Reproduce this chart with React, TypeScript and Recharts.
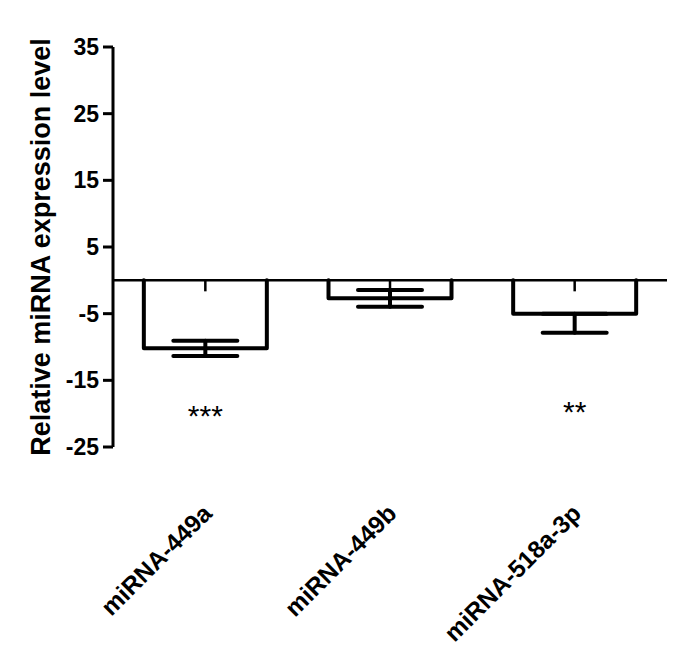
import React from 'react';
import { BarChart, Bar, XAxis, YAxis, ErrorBar, ReferenceLine, ReferenceDot } from 'recharts';

const categories = ['miRNA-449a', 'miRNA-449b', 'miRNA-518a-3p'];
const means = [-10.2, -2.7, -5.0];
const errors: [number, number][] = [[1.15, 1.15], [1.25, 1.25], [2.85, 0]];
const significance = ['***', '', '**'];
const significanceLevel = [-20.3, -20.3, -19.7];
const yTicks = [-25, -15, -5, 5, 15, 25, 35];
const yTitle = 'Relative miRNA expression level';

const FONT = "Arial, 'Liberation Sans', Helvetica, sans-serif";

const data = categories.map((name, i) => ({ name, value: means[i], err: errors[i] }));

const OpenBar = (props: any) => {
  const { x, y, width, height, value } = props;
  const v = Array.isArray(value) ? value[1] : value;
  const top = Math.min(y, y + height);
  const bottom = Math.max(y, y + height);
  const base = v < 0 ? top : bottom;
  const end = v < 0 ? bottom : top;
  const dir = v < 0 ? 1 : -1;
  const cx = x + width / 2;
  return (
    <g>
      <path
        d={`M${x},${base} L${x},${end} L${x + width},${end} L${x + width},${base}`}
        fill="#fff"
        stroke="#000"
        strokeWidth={4}
        strokeLinejoin="round"
        strokeLinecap="round"
      />
      <line x1={cx} y1={base} x2={cx} y2={base + dir * 11} stroke="#000" strokeWidth={2.5} />
    </g>
  );
};

const XTick = (props: any) => {
  const { x, y, payload } = props;
  return (
    <text
      transform={`translate(${x + 8},${y + 60}) rotate(-45)`}
      textAnchor="end"
      fontFamily={FONT}
      fontWeight="bold"
      fontSize={24.5}
      fill="#000"
    >
      {payload.value}
    </text>
  );
};

export default function App() {
  return (
    <div style={{ position: 'absolute', left: 0, top: 0, background: '#fff' }}>
      <BarChart
        width={685}
        height={665}
        data={data}
        margin={{ top: 47, right: 18, bottom: 18, left: 13 }}
        barCategoryGap="16.7%"
      >
        <XAxis
          dataKey="name"
          axisLine={false}
          tickLine={false}
          height={200}
          interval={0}
          tick={<XTick />}
        />
        <YAxis
          domain={[-25, 35]}
          ticks={yTicks}
          width={100}
          axisLine={{ stroke: '#000', strokeWidth: 3 }}
          tickLine={{ stroke: '#000', strokeWidth: 3 }}
          tickSize={10}
          tickMargin={4}
          tick={{ fill: '#000', fontFamily: FONT, fontWeight: 'bold', fontSize: 23 }}
          interval={0}
          label={{
            value: yTitle,
            angle: -90,
            position: 'center',
            dx: -23,
            style: { fill: '#000', fontFamily: FONT, fontWeight: 'bold', fontSize: 27 },
          }}
        />
        <ReferenceLine y={0} stroke="#000" strokeWidth={2.5} />
        <Bar dataKey="value" shape={<OpenBar />} isAnimationActive={false}>
          <ErrorBar
            dataKey="err"
            width={32}
            stroke="#000"
            strokeWidth={4}
            strokeLinecap="round"
            isAnimationActive={false}
          />
        </Bar>
        {categories.map((c, i) =>
          significance[i] ? (
            <ReferenceDot
              key={c}
              x={c}
              y={significanceLevel[i]}
              r={0}
              shape={(p: any) => (
                <text
                  x={p.cx}
                  y={p.cy}
                  textAnchor="middle"
                  dominantBaseline="central"
                  fontFamily={FONT}
                  fontSize={30}
                  fill="#000"
                >
                  {significance[i]}
                </text>
              )}
            />
          ) : null
        )}
      </BarChart>
    </div>
  );
}
